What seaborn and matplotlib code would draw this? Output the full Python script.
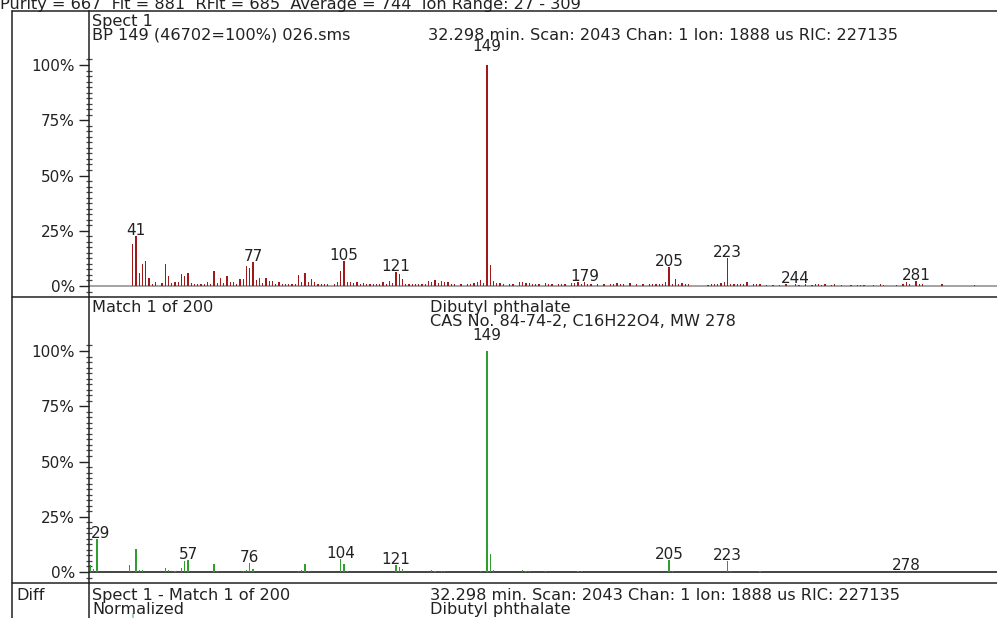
import matplotlib
matplotlib.use("Agg")
import matplotlib.pyplot as plt
from matplotlib.lines import Line2D
from matplotlib.ticker import FixedLocator
import pandas as pd
import seaborn as sns

# ---- Spect 1 (measured scan), relative abundance in % of base peak ----
spect_mz = [40, 41, 42, 43, 44, 45, 46, 47, 49, 50, 51, 52, 53, 54, 55, 56, 57, 58, 59, 60,
            61, 62, 63, 64, 65, 66, 67, 68, 69, 70, 71, 72, 73, 74, 75, 76, 77, 78, 79, 80,
            81, 82, 83, 84, 85, 86, 87, 88, 89, 90, 91, 92, 93, 94, 95, 96, 97, 98, 99, 100,
            102, 103, 104, 105, 106, 107, 108, 109, 110, 111, 112, 113, 114, 115, 116, 117,
            118, 119, 120, 121, 122, 123, 124, 125, 126, 127, 128, 129, 130, 131, 132, 133,
            134, 135, 136, 137, 138, 139, 141, 143, 144, 145, 146, 147, 148, 149, 150, 151,
            152, 153, 154, 156, 157, 159, 160, 161, 162, 163, 164, 165, 167, 168, 169, 171,
            172, 173, 175, 176, 177, 178, 179, 180, 181, 183, 185, 187, 188, 189, 190, 191,
            193, 195, 197, 199, 200, 201, 202, 203, 204, 205, 206, 207, 208, 209, 210, 211,
            217, 218, 219, 220, 221, 222, 223, 224, 225, 226, 227, 228, 229, 231, 232, 233,
            235, 237, 239, 241, 244, 245, 247, 249, 250, 251, 252, 253, 255, 256, 258, 261,
            263, 264, 265, 268, 270, 271, 275, 277, 278, 279, 281, 282, 283, 289, 299]
spect_pct = [18.9, 22.6, 5.9, 9.8, 11.2, 3.8, 0.8, 1.7, 1.3, 10.0, 4.7, 1.2, 2.0, 1.7, 5.6, 4.4, 6.0, 1.5, 0.8, 0.8,
             0.8, 0.8, 1.7, 0.8, 6.6, 1.3, 3.8, 1.3, 4.7, 1.8, 1.8, 0.8, 3.0, 3.0, 9.0, 8.0, 11.0, 2.6, 3.6, 1.3,
             3.5, 2.1, 2.1, 0.9, 1.7, 0.8, 0.8, 0.8, 0.8, 0.8, 4.8, 1.9, 6.0, 1.6, 3.3, 1.8, 0.8, 0.8, 0.8, 0.8,
             0.8, 1.6, 6.6, 11.3, 1.8, 1.7, 1.2, 1.7, 0.8, 1.2, 0.8, 0.8, 0.8, 0.8, 1.0, 1.7,
             0.8, 2.4, 1.5, 6.3, 5.3, 3.2, 1.0, 0.8, 0.8, 0.8, 0.8, 1.0, 0.8, 2.1, 1.7, 2.6,
             1.3, 2.3, 1.7, 2.0, 1.0, 0.8, 0.8, 0.8, 0.8, 1.3, 1.7, 2.6, 1.3, 100.0, 9.5, 2.1,
             1.5, 1.2, 0.8, 0.8, 0.8, 1.8, 1.7, 1.5, 1.2, 0.8, 0.8, 0.8, 1.3, 0.8, 0.8, 0.8,
             0.8, 1.0, 1.2, 1.2, 1.7, 0.8, 1.7, 0.8, 0.8, 0.8, 0.8, 0.8, 1.0, 1.3, 1.0, 0.8,
             1.2, 0.8, 0.8, 0.8, 0.8, 0.8, 0.8, 1.0, 2.0, 8.4, 1.0, 3.0, 1.0, 1.5, 1.0, 1.0,
             0.6, 0.8, 0.8, 1.0, 1.2, 1.7, 12.5, 0.8, 0.8, 0.8, 0.8, 0.8, 1.7, 0.8, 0.8, 0.8,
             0.5, 0.5, 0.6, 0.8, 1.0, 0.5, 0.8, 0.6, 0.8, 0.8, 0.5, 0.8, 0.5, 0.8, 0.6, 0.5,
             0.5, 0.6, 0.5, 0.5, 0.8, 0.5, 0.6, 1.0, 1.7, 0.8, 2.3, 1.0, 0.8, 0.8, 0.6]

# ---- Library hit: Dibutyl phthalate ----
match_mz = [27, 28, 29, 39, 41, 42, 43, 50, 51, 53, 55, 56, 57, 65, 66, 74, 75, 76, 77,
            91, 92, 93, 94, 104, 105, 106, 121, 122, 123, 132, 133, 135, 136, 147, 149,
            150, 151, 160, 161, 162, 167, 177, 178, 205, 206, 223, 224, 233, 278]
match_pct = [3.0, 1.5, 14.9, 3.2, 10.6, 0.8, 0.9, 1.7, 0.9, 0.6, 1.8, 5.1, 5.4, 3.6, 0.6, 0.6, 0.9, 3.9, 1.4,
             0.6, 0.9, 3.8, 0.6, 6.0, 3.5, 0.6, 3.3, 2.1, 1.4, 0.8, 0.4, 0.4, 0.4, 0.4, 100.0,
             8.3, 0.9, 0.8, 0.4, 0.4, 0.6, 0.4, 0.4, 5.3, 0.6, 5.1, 0.3, 0.3, 0.3]

# ---- Difference spectrum (Spect 1 - Match 1, normalized) ----
diff_mz = [40]
diff_pct = [18.9]

spect_peak_labels = [41, 77, 105, 121, 149, 179, 205, 223, 244, 281]
match_peak_labels = [29, 57, 76, 104, 121, 149, 205, 223, 278]

y_ticks = [0, 25, 50, 75, 100]
y_tick_labels = ["0%", "25%", "50%", "75%", "100%"]

header_text = "Purity = 667  Fit = 881  RFit = 685  Average = 744  Ion Range: 27 - 309"
scan_text = "32.298 min. Scan: 2043 Chan: 1 Ion: 1888 us RIC: 227135"
compound = "Dibutyl phthalate"
cas_text = "CAS No. 84-74-2, C16H22O4, MW 278"

RED = "#a01818"
GREEN = "#2f9e2f"
DIFF = "#a3c9d1"
INK = "#222222"
CAPTION_SIZE = 11.6

sns.set_style("white")
plt.rcParams["font.family"] = ["DejaVu Sans"]
plt.rcParams["font.size"] = 11

W, H = 997, 618
fig = plt.figure(figsize=(W / 100, H / 100), dpi=100)

# m/z scale: 3.25 px per unit, m/z 149 at x=487 px
X_LEFT, X_RIGHT = 89, 997
xlim = (149 + (X_LEFT - 487) / 3.25, 149 + (X_RIGHT - 487) / 3.25)
PX_PER_PCT = 2.21


def axes_px(x0, y0, x1, y1):
    return fig.add_axes([x0 / W, 1 - y1 / H, (x1 - x0) / W, (y1 - y0) / H])


def fig_text(x, y, s, **kw):
    fig.text(x / W, 1 - y / H, s, va="baseline", ha=kw.pop("ha", "left"), color=INK,
             fontsize=kw.pop("fontsize", CAPTION_SIZE), **kw)


def spectrum_panel(y_top, y_zero, y_bottom, mz, pct, color, base_color, labels, offsets):
    ax = axes_px(X_LEFT, y_top, X_RIGHT, y_bottom)
    df = pd.DataFrame({"mz": mz, "pct": pct})
    sns.barplot(data=df, x="mz", y="pct", native_scale=True, width=0.45, color=color,
                saturation=1, linewidth=0, errorbar=None, antialiased=False, ax=ax)
    ax.set_xlim(*xlim)
    ax.set_ylim(-(y_bottom - y_zero) / PX_PER_PCT, (y_zero - y_top) / PX_PER_PCT)
    ax.axhline(0, color=base_color, lw=1.1, zorder=0.5)
    ax.set_xlabel("")
    ax.set_ylabel("")
    ax.set_xticks([])
    ax.yaxis.set_major_locator(FixedLocator(y_ticks))
    ax.set_yticklabels(y_tick_labels)
    ax.yaxis.set_minor_locator(FixedLocator([i * 2.5 for i in range(-1, 42)]))
    ax.tick_params(axis="y", which="major", direction="out", length=7, width=1,
                   color=INK, pad=3, labelsize=11, labelcolor=INK, left=True)
    ax.tick_params(axis="y", which="minor", direction="inout", length=4, width=0.9,
                   color="#444444", left=True)
    for side in ("top", "right", "bottom"):
        ax.spines[side].set_visible(False)
    ax.spines["left"].set_color(INK)
    ax.spines["left"].set_linewidth(1.1)
    ax.patch.set_alpha(0)
    lookup = dict(zip(mz, pct))
    for m in labels:
        dx, dy = offsets.get(m, (0, 1))
        ax.annotate(str(m), xy=(m, lookup[m]), xytext=(dx, dy), textcoords="offset pixels",
                    ha="center", va="baseline", fontsize=11, color=INK)
    return ax


# Spect 1 panel
spectrum_panel(11, 286, 297, spect_mz, spect_pct, RED, "#8a8a8a",
               spect_peak_labels, {149: (0, 14)})
# Library match panel
spectrum_panel(297, 572, 583, match_mz, match_pct, GREEN, "#111111",
               match_peak_labels, {149: (0, 11), 29: (4, 1)})

# Difference panel (only its upper part fits on the page)
axd = axes_px(X_LEFT, 583, X_RIGHT, 655)
sns.barplot(x=diff_mz, y=diff_pct, native_scale=True, width=0.6, color=DIFF,
            saturation=1, linewidth=0, errorbar=None, ax=axd)
axd.set_xlim(*xlim)
axd.set_ylim(0, (655 - 583) / PX_PER_PCT)
axd.set_xticks([])
axd.yaxis.set_major_locator(FixedLocator([17.5]))
axd.set_yticklabels([""])
axd.tick_params(axis="y", which="major", direction="out", length=3, width=1, color=INK)
for side in ("top", "right", "bottom"):
    axd.spines[side].set_visible(False)
axd.spines["left"].set_color(INK)
axd.spines["left"].set_linewidth(1.1)
axd.patch.set_alpha(0)

# Frame rules
for y in (11, 297, 583):
    fig.add_artist(Line2D([12 / W, 1], [1 - y / H, 1 - y / H], color=INK, lw=1.1))
fig.add_artist(Line2D([12 / W, 12 / W], [1 - 11 / H, 0], color=INK, lw=1.1))

# Header and panel captions
fig_text(0, 8.5, header_text)
fig_text(92, 26, "Spect 1")
fig_text(92, 39.5, "BP 149 (46702=100%) 026.sms")
fig_text(428, 39.5, scan_text)

fig_text(92, 312, "Match 1 of 200")
fig_text(430, 312, compound)
fig_text(430, 326, cas_text)

fig_text(16, 600, "Diff")
fig_text(92, 600, "Spect 1 - Match 1 of 200")
fig_text(92, 614, "Normalized")
fig_text(430, 600, scan_text)
fig_text(430, 614, compound)

fig.savefig("out.png", dpi=100, facecolor="white")
